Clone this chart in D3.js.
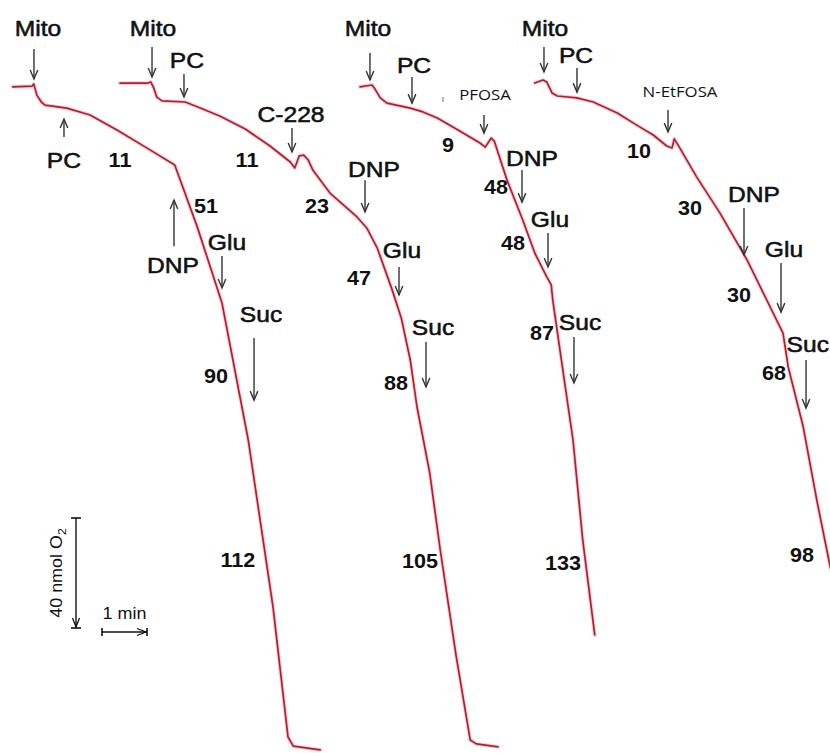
<!DOCTYPE html>
<html>
<head>
<meta charset="utf-8">
<script src="https://cdn.jsdelivr.net/npm/d3@7"></script>
<style>
  body { margin: 0; background: #fff; }
  svg { display: block; background: #fff; }
</style>
</head>
<body>
<svg id="chart" width="830" height="753"></svg>
<script>
// Oxygen electrode recordings: time (s) against O2 left in the chamber (nmol).
const trace1Time  = [17, 43, 45, 49, 55, 60, 89, 120, 156, 200, 233, 263, 296, 331, 364, 384, 391, 427];
const trace1Level = [248.4, 248.7, 249.5, 245.5, 242.9, 241.8, 240.7, 238.2, 232.7, 225.5, 220, 197.5, 169.8, 120, 59.3, 12, 8.7, 7.3];

const trace2Time  = [160, 197, 201, 205, 209, 216, 247, 267, 293, 327, 360, 387, 393, 399, 405, 411, 417, 440, 476, 489, 503, 523, 535, 547, 556, 573, 587, 608, 627, 635, 664];
const trace2Level = [249.8, 249.8, 250.2, 248, 244.7, 243.3, 242.9, 240.7, 237.8, 233.1, 226.9, 221.1, 218.9, 223.3, 223.6, 221.8, 218.2, 209.8, 201.1, 197.1, 189.8, 174.5, 164.4, 149.1, 132, 108, 80, 41.8, 10.9, 9.5, 8.4];

const trace3Time  = [480, 496, 500, 507, 516, 547, 564, 583, 613, 640, 647, 655, 659, 676, 697, 713, 729, 735, 737, 751, 764, 777, 793];
const trace3Level = [248.4, 249.1, 247.6, 244.4, 242.5, 240.7, 239.3, 237.1, 232.4, 228, 226.5, 229.8, 228.7, 214.5, 200, 188, 179.3, 176.4, 170.9, 144.4, 120, 83.6, 49.1];

const trace4Time  = [713, 724, 729, 736, 743, 769, 791, 823, 849, 871, 889, 896, 899, 904, 929, 960, 996, 1044, 1051, 1071, 1089, 1107, 1113];
const trace4Level = [249.8, 250.9, 250.2, 246.2, 245.1, 244.4, 242.9, 238.9, 234.5, 230.9, 226.9, 226.2, 229.5, 227.3, 215.6, 202.5, 185.5, 158.9, 146.5, 124.7, 98.2, 73.8, 68.4];

// Additions: arrow at time, tail and tip levels, label anchor
const eventNames      = ["Mito", "PC", "DNP", "Glu", "Suc",
                         "Mito", "PC", "C-228", "DNP", "Glu", "Suc",
                         "Mito", "PC", "PFOSA", "DNP", "Glu", "Suc",
                         "Mito", "PC", "N-EtFOSA", "DNP", "Glu", "Suc"];
const eventTimes      = [45.3, 85.3, 232, 296, 338.7,
                         202.7, 245.3, 389.3, 486.7, 532, 568,
                         493.3, 549.3, 645.3, 696, 730.7, 765.3,
                         725.3, 769.3, 890.7, 992, 1041.3, 1074.7];
const eventTailLevels = [262.2, 230.2, 190.5, 186.9, 157.1,
                         262.9, 253.1, 233.5, 214.5, 182.9, 155.6,
                         260.7, 252.0, 238.2, 218.2, 195.3, 157.5,
                         262.9, 255.3, 240, 204.4, 184.4, 149.1];
const eventTipLevels  = [251.3, 236.7, 207.3, 175.3, 134.5,
                         252.0, 244.7, 224.7, 202.9, 172.7, 139.3,
                         250.9, 242.5, 231.6, 206.5, 182.9, 140.7,
                         253.8, 246.5, 232, 187.3, 166.5, 131.6];
const eventLabelTimes  = [50.7, 85.3, 230.7, 302.7, 348,
                          204, 249.3, 388, 498.7, 536, 577.3,
                          490.7, 552, 646.7, 709.3, 733.3, 773.3,
                          726.7, 768, 906.7, 1005.3, 1045.3, 1105.3];
const eventLabelLevels = [266.9, 218.9, 180.7, 189.1, 162.9,
                          266.9, 255.3, 235.6, 215.6, 186.2, 158.2,
                          266.9, 253.5, 243.6, 219.6, 197.5, 160,
                          266.9, 257.1, 244.7, 206.5, 186.5, 152];

// Respiration rates written beside each segment
const rateValues = [11, 51, 90, 112,
                    11, 23, 47, 88, 105,
                    9, 48, 48, 87, 133,
                    10, 30, 30, 68, 98];
const rateTimes  = [160, 274.7, 288, 317.3,
                    329.3, 422.7, 478.7, 528, 560,
                    597.3, 661.3, 684, 722.7, 750.7,
                    852, 920, 985.3, 1032, 1069.3];
const rateLevels = [219.3, 202.5, 140.7, 73.8,
                    219.3, 202.5, 176.4, 138.2, 73.5,
                    224.7, 209.5, 189.1, 156.4, 72.7,
                    222.5, 201.8, 170.2, 141.8, 75.6];

// Calibration bars
const barTimeSpan = 60;   // s  (1 min)
const barO2Span = 40;     // nmol O2

const svg = d3.select("#chart");
const x = d3.scaleLinear().domain([0, 1120]).range([0, 840]);
const y = d3.scaleLinear().domain([280, 0]).range([0, 770]);

const STRETCH = 1.12;
const ink = "#333";

function label(g, str, px, py, opt) {
  opt = opt || {};
  const t = g.append("text")
    .attr("transform", `translate(${px},${py}) ${opt.rotate ? "rotate(" + opt.rotate + ")" : ""} scale(${opt.stretch || STRETCH},1)`)
    .attr("text-anchor", opt.anchor || "middle")
    .attr("font-family", opt.family || "'Liberation Sans', Arial, sans-serif")
    .attr("font-size", opt.size || 21)
    .attr("font-weight", opt.weight || "normal")
    .attr("fill", "#111")
    .text(str);
  if (opt.thick) {
    t.attr("stroke", "#111").attr("stroke-width", opt.thick).attr("stroke-linejoin", "round");
  }
  return t;
}

// Traces
const traces = [
  [trace1Time, trace1Level],
  [trace2Time, trace2Level],
  [trace3Time, trace3Level],
  [trace4Time, trace4Level]
];
const line = d3.line().x(d => x(d[0])).y(d => y(d[1]));
const traceG = svg.append("g");
traces.forEach(([ts, ls]) => {
  const pts = ts.map((t, i) => [t, ls[i]]);
  traceG.append("path").attr("d", line(pts))
    .attr("fill", "none").attr("stroke", "#eeb0ba").attr("stroke-width", 3.8)
    .attr("stroke-linejoin", "round").attr("stroke-linecap", "round").attr("opacity", 0.6);
  traceG.append("path").attr("d", line(pts))
    .attr("fill", "none").attr("stroke", "#b41e2c").attr("stroke-width", 1.7)
    .attr("stroke-linejoin", "round").attr("stroke-linecap", "round");
});

// Addition arrows and their labels
const evG = svg.append("g");
eventNames.forEach((name, i) => {
  const ax = x(eventTimes[i]);
  const y0 = y(eventTailLevels[i]);
  const y1 = y(eventTipLevels[i]);
  const dir = y1 > y0 ? 1 : -1;
  evG.append("line").attr("x1", ax).attr("x2", ax).attr("y1", y0).attr("y2", y1)
    .attr("stroke", ink).attr("stroke-width", 1.4);
  evG.append("path")
    .attr("d", `M${ax - 3.8},${y1 - dir * 9} L${ax},${y1} L${ax + 3.8},${y1 - dir * 9}`)
    .attr("fill", "none").attr("stroke", ink).attr("stroke-width", 1.4);
  const small = name.indexOf("FOSA") >= 0;
  const last = i === eventNames.length - 1;
  label(evG, name, x(eventLabelTimes[i]), y(eventLabelLevels[i]), small
    ? { size: 15, family: "'Open Sans', 'Liberation Sans', sans-serif" }
    : { size: 22, thick: 0.55, anchor: last ? "end" : "middle" });
});

// Stray pen mark near the PFOSA addition
evG.append("line").attr("x1", x(590.7)).attr("x2", x(590.7)).attr("y1", y(244.7)).attr("y2", y(242.9))
  .attr("stroke", "#777").attr("stroke-width", 1);

// Rate labels
const rateG = svg.append("g");
rateValues.forEach((v, i) => {
  label(rateG, String(v), x(rateTimes[i]), y(rateLevels[i]), { size: 20, weight: "bold", stretch: 1.08 });
});

// Calibration bars
const calG = svg.append("g");
const vx = 76, vTop = 518;
const vBottom = vTop + (y(0) - y(barO2Span));
calG.append("line").attr("x1", vx).attr("x2", vx).attr("y1", vTop).attr("y2", vBottom)
  .attr("stroke", "#111").attr("stroke-width", 1.4);
calG.append("line").attr("x1", vx - 5).attr("x2", vx + 5).attr("y1", vTop).attr("y2", vTop)
  .attr("stroke", "#111").attr("stroke-width", 1.6);
calG.append("line").attr("x1", vx - 5).attr("x2", vx + 5).attr("y1", vBottom).attr("y2", vBottom)
  .attr("stroke", "#111").attr("stroke-width", 1.6);
calG.append("path").attr("d", `M${vx - 3.5},${vBottom - 10} L${vx},${vBottom - 1} L${vx + 3.5},${vBottom - 10}`)
  .attr("fill", "none").attr("stroke", "#111").attr("stroke-width", 1.3);

const hy = 632, hLeft = 102;
const hRight = hLeft + (x(barTimeSpan) - x(0));
calG.append("line").attr("x1", hLeft).attr("x2", hRight).attr("y1", hy).attr("y2", hy)
  .attr("stroke", "#111").attr("stroke-width", 1.4);
calG.append("line").attr("x1", hLeft).attr("x2", hLeft).attr("y1", hy - 4).attr("y2", hy + 4)
  .attr("stroke", "#111").attr("stroke-width", 1.6);
calG.append("line").attr("x1", hRight).attr("x2", hRight).attr("y1", hy - 4).attr("y2", hy + 4)
  .attr("stroke", "#111").attr("stroke-width", 1.6);
calG.append("path").attr("d", `M${hRight - 10},${hy - 3.5} L${hRight - 1},${hy} L${hRight - 10},${hy + 3.5}`)
  .attr("fill", "none").attr("stroke", "#111").attr("stroke-width", 1.3);

label(calG, "1 min", (hLeft + hRight) / 2, 619, { size: 16 });

const o2Label = calG.append("text")
  .attr("transform", `translate(62,${(vTop + vBottom) / 2}) rotate(-90) scale(${STRETCH},1)`)
  .attr("text-anchor", "middle")
  .attr("font-family", "'Liberation Sans', Arial, sans-serif")
  .attr("font-size", 16)
  .attr("fill", "#111");
o2Label.append("tspan").text("40 nmol O");
o2Label.append("tspan").attr("font-size", 11).attr("dy", 4).text("2");
</script>
</body>
</html>
